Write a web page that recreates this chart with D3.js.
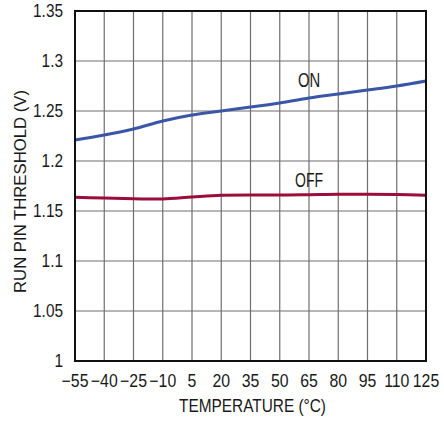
<!DOCTYPE html>
<html><head><meta charset="utf-8">
<script src="https://cdn.jsdelivr.net/npm/d3@7"></script>
<style>body{margin:0;background:#fff}svg{display:block}</style>
</head><body><svg id="c" width="444" height="423"></svg>
<script>
const temps = [-55,-40,-25,-10,5,20,35,50,65,80,95,110,125];
const onVals = [1.221,1.226,1.232,1.240,1.246,1.250,1.254,1.258,1.263,1.267,1.271,1.275,1.280];
const offVals = [1.1637,1.1630,1.1623,1.1620,1.1640,1.1657,1.1660,1.1660,1.1663,1.1667,1.1667,1.1665,1.1657];
const yTicks = [1,1.05,1.1,1.15,1.2,1.25,1.3,1.35];
const xTickLabels = ["\u221255","\u221240","\u221225","\u221210","5","20","35","50","65","80","95","110","125"];

const svg = d3.select("#c");
const L=75,R=426,T=11,B=361;
const x = d3.scaleLinear().domain([-55,125]).range([L,R]);
const y = d3.scaleLinear().domain([1,1.35]).range([B,T]);
const font = "'Liberation Sans',Arial,sans-serif";

const g = svg.append("g");
g.selectAll("line.vg").data(temps).enter().append("line")
 .attr("x1",d=>x(d)).attr("x2",d=>x(d)).attr("y1",T).attr("y2",B)
 .attr("stroke","#6e6e6e").attr("stroke-width",1.2);
g.selectAll("line.hg").data(yTicks).enter().append("line")
 .attr("x1",L).attr("x2",R).attr("y1",d=>y(d)).attr("y2",d=>y(d))
 .attr("stroke","#6e6e6e").attr("stroke-width",1.2);

const line = d3.line().x((d,i)=>x(temps[i])).y(d=>y(d)).curve(d3.curveMonotoneX);
g.append("path").attr("d",line(offVals)).attr("fill","none").attr("stroke","#9b0d3a").attr("stroke-width",3);
g.append("path").attr("d",line(onVals)).attr("fill","none").attr("stroke","#3a57a7").attr("stroke-width",3);

g.append("rect").attr("x",L).attr("y",T).attr("width",R-L).attr("height",B-T)
 .attr("fill","none").attr("stroke","#111").attr("stroke-width",2);

function txt(px,py,s,size,sx,anchor,rot){
  return g.append("text")
   .attr("transform",`translate(${px},${py})`+(rot?` rotate(${rot})`:"")+` scale(${sx},1)`)
   .attr("text-anchor",anchor).attr("font-family",font).attr("font-size",size)
   .attr("fill","#1a1a1a").text(s);
}
yTicks.forEach(d=>txt(63,y(d)+6,String(+d.toFixed(2)),17.5,0.88,"end"));
temps.forEach((d,i)=>txt(x(d),387,xTickLabels[i],18,0.88,"middle"));

g.append("text").attr("x",252.5).attr("y",412).attr("text-anchor","middle")
 .attr("font-family",font).attr("font-size",17.5).attr("fill","#1a1a1a")
 .attr("textLength",147).attr("lengthAdjust","spacingAndGlyphs").text("TEMPERATURE (\u00B0C)");
g.append("text").attr("transform","translate(25.5,191.5) rotate(-90)").attr("text-anchor","middle")
 .attr("font-family",font).attr("font-size",17).attr("fill","#1a1a1a")
 .attr("textLength",203).attr("lengthAdjust","spacingAndGlyphs").text("RUN PIN THRESHOLD (V)");

txt(309,86.5,"ON",19.5,0.76,"middle");
txt(309,187,"OFF",19.5,0.72,"middle");
</script></body></html>
